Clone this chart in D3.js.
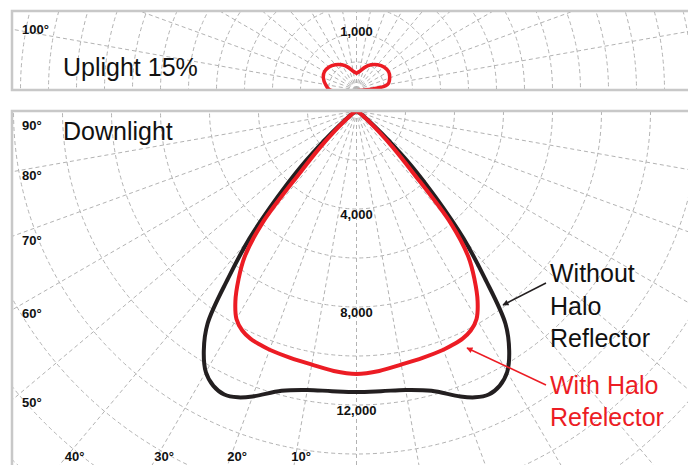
<!DOCTYPE html>
<html>
<head>
<meta charset="utf-8">
<script src="https://cdn.jsdelivr.net/npm/d3@7"></script>
<style>
  body { margin: 0; background: #fff; }
  svg { display: block; }
</style>
</head>
<body>
<div id="chart"></div>
<script>
// angles from nadir (deg) and candela for the downlight curves
const downAngles   = [0, 5, 10, 15, 20, 22.5, 25, 27.5, 30, 32.5, 35, 37.5, 40, 42.5, 45, 47.5, 50, 55, 60, 70, 80, 90];
const withoutHalo  = [11470, 11480, 11560, 11820, 12400, 12650, 12770, 12650, 12300, 11600, 10600, 8600, 6800, 4800, 3200, 1800, 900, 300, 120, 40, 10, 0];
const withHalo     = [10730, 10650, 10510, 10430, 10370, 10320, 10250, 10100, 9800, 9200, 8400, 7500, 6000, 3400, 2100, 1200, 650, 250, 100, 30, 10, 0];

// uplight (angles 90..180 from nadir)
const upAngles = [90, 100, 110, 120, 130, 140, 150, 160, 170, 180];
const uplight  = [470, 560, 630, 660, 640, 590, 520, 430, 340, 300];

const downRingLabels = [4000, 8000, 12000];
const upRingLabels = [1000];
const leftAngleLabels = [90, 80, 70, 60, 50];
const bottomAngleLabels = [40, 30, 20, 10];
const upAngleLabels = [100];

const width = 688, height = 465;
const cx = 356.5;
const upBox = { x: 12, y: 11, y2: 90 };
const downBox = { x: 12, y: 111, y2: height };
const font = "'Myriad Pro', 'Liberation Sans', Arial, sans-serif";
const gridColor = "#b3b3b3";
const red = "#ec1c24", black = "#231f20";

const svg = d3.select("#chart")
    .append("svg")
    .attr("width", width)
    .attr("height", height);

const defs = svg.append("defs");
defs.append("clipPath").attr("id", "clipUp")
    .append("rect").attr("x", upBox.x).attr("y", upBox.y)
    .attr("width", width).attr("height", upBox.y2 - upBox.y);
defs.append("clipPath").attr("id", "clipDown")
    .append("rect").attr("x", downBox.x).attr("y", downBox.y)
    .attr("width", width).attr("height", downBox.y2 - downBox.y);

["black", "red"].forEach(c => {
    defs.append("marker")
        .attr("id", "arrow-" + c)
        .attr("viewBox", "0 0 10 10")
        .attr("refX", 9).attr("refY", 5)
        .attr("markerWidth", 7).attr("markerHeight", 6)
        .attr("markerUnits", "userSpaceOnUse")
        .attr("orient", "auto")
        .append("path")
        .attr("d", "M0,0 L10,5 L0,10 z")
        .attr("fill", c === "red" ? red : black);
});

const rad = a => a * Math.PI / 180;

// scales
const rDown = d3.scaleLinear().domain([0, 12000]).range([0, 294]);
const rUp = d3.scaleLinear().domain([0, 1000]).range([0, 56]);

// ---------- top panel (uplight) ----------
const up = svg.append("g").attr("clip-path", "url(#clipUp)")
    .append("g").attr("transform", `translate(${cx},${upBox.y2})`);

up.selectAll("circle.ring")
    .data(d3.range(500, 7000, 500))
    .enter().append("circle")
    .attr("r", d => rUp(d))
    .attr("fill", "none")
    .attr("stroke", gridColor)
    .attr("stroke-dasharray", "4,3");

up.selectAll("line.spoke")
    .data(d3.range(-180, 181, 10).filter(a => Math.abs(a) >= 90))
    .enter().append("line")
    .attr("x2", a => 800 * Math.sin(rad(a)))
    .attr("y2", a => 800 * Math.cos(rad(a)))
    .attr("stroke", gridColor)
    .attr("stroke-dasharray", "4,3");

const upPts = upAngles.slice().reverse().map((a, i) => ({ a: -a, v: uplight[upAngles.length - 1 - i] }))
    .concat(upAngles.slice(1).map((a, i) => ({ a: a, v: uplight[i + 1] })));

up.append("path")
    .datum(upPts)
    .attr("d", d3.lineRadial()
        .angle(d => Math.PI - rad(d.a))
        .radius(d => rUp(d.v))
        .curve(d3.curveCatmullRomClosed))
    .attr("fill", "none")
    .attr("stroke", red)
    .attr("stroke-width", 3.5);

// ---------- bottom panel (downlight) ----------
const down = svg.append("g").attr("clip-path", "url(#clipDown)")
    .append("g").attr("transform", `translate(${cx},${downBox.y})`);

down.selectAll("circle.ring")
    .data(d3.range(2000, 22000, 2000))
    .enter().append("circle")
    .attr("r", d => rDown(d))
    .attr("fill", "none")
    .attr("stroke", gridColor)
    .attr("stroke-dasharray", "4,3");

down.selectAll("line.spoke")
    .data(d3.range(-90, 91, 10))
    .enter().append("line")
    .attr("x2", a => 800 * Math.sin(rad(a)))
    .attr("y2", a => 800 * Math.cos(rad(a)))
    .attr("stroke", gridColor)
    .attr("stroke-dasharray", "4,3");

function mirror(angles, vals) {
    const left = angles.map((a, i) => ({ a: -a, v: vals[i] })).reverse();
    const right = angles.slice(1).map((a, i) => ({ a: a, v: vals[i + 1] }));
    return left.concat(right);
}

const radial = d3.lineRadial()
    .angle(d => Math.PI - rad(d.a))
    .radius(d => rDown(d.v))
    .curve(d3.curveCatmullRom);

down.append("path")
    .datum(mirror(downAngles, withoutHalo))
    .attr("d", radial)
    .attr("fill", "none")
    .attr("stroke", black)
    .attr("stroke-width", 4)
    .attr("stroke-linejoin", "round");

down.append("path")
    .datum(mirror(downAngles, withHalo))
    .attr("d", radial)
    .attr("fill", "none")
    .attr("stroke", red)
    .attr("stroke-width", 4)
    .attr("stroke-linejoin", "round");

// ---------- panel borders ----------
svg.append("path")
    .attr("d", `M${width + 5},${upBox.y} H${upBox.x} V${upBox.y2} H${width + 5}`)
    .attr("fill", "none").attr("stroke", "#c8c8c8").attr("stroke-width", 2.5);
svg.append("path")
    .attr("d", `M${width + 5},${downBox.y} H${downBox.x} V${height + 5}`)
    .attr("fill", "none").attr("stroke", "#c8c8c8").attr("stroke-width", 2.5);

// ---------- labels ----------
const lbl = (x, y, t, opts = {}) => svg.append("text")
    .attr("x", x).attr("y", y)
    .attr("text-anchor", opts.anchor || "start")
    .attr("font-family", font)
    .attr("font-size", opts.size || 13)
    .attr("font-weight", opts.weight || "bold")
    .attr("fill", opts.fill || "#111")
    .text(t);

// ring labels
downRingLabels.forEach(v => lbl(cx, downBox.y + rDown(v) + 10, d3.format(",")(v), { anchor: "middle" }));
upRingLabels.forEach(v => lbl(cx, upBox.y2 - rUp(v) + 2, d3.format(",")(v), { anchor: "middle" }));

// angle labels on the left edge
leftAngleLabels.forEach(a => {
    const yLine = downBox.y + (cx - 14) / Math.tan(rad(a));
    lbl(22, a === 90 ? downBox.y + 19 : yLine + 9, a + "°");
});
bottomAngleLabels.forEach(a => {
    const xLine = cx - (453 - downBox.y) * Math.tan(rad(a));
    lbl(xLine + 5, 461, a + "°", { anchor: "middle" });
});
upAngleLabels.forEach(a => {
    const yLine = upBox.y2 - (cx - 14) * Math.tan(rad(a - 90));
    lbl(22, yLine + 4, a + "°");
});

// panel titles
lbl(63, 76, "Uplight 15%", { size: 25, weight: "normal", fill: "#111" });
lbl(63, 140, "Downlight", { size: 25, weight: "normal", fill: "#111" });

// annotations
["Without", "Halo", "Reflector"].forEach((t, i) =>
    lbl(550, 282 + i * 32.5, t, { size: 25, weight: "normal", fill: "#111" }));
["With Halo", "Refelector"].forEach((t, i) =>
    lbl(550, 394 + i * 32, t, { size: 25, weight: "normal", fill: red }));

svg.append("line")
    .attr("x1", 546).attr("y1", 283).attr("x2", 503).attr("y2", 305)
    .attr("stroke", black).attr("stroke-width", 1.5)
    .attr("marker-end", "url(#arrow-black)");
svg.append("line")
    .attr("x1", 546).attr("y1", 385).attr("x2", 467).attr("y2", 348)
    .attr("stroke", red).attr("stroke-width", 1.5)
    .attr("marker-end", "url(#arrow-red)");
</script>
</body>
</html>
